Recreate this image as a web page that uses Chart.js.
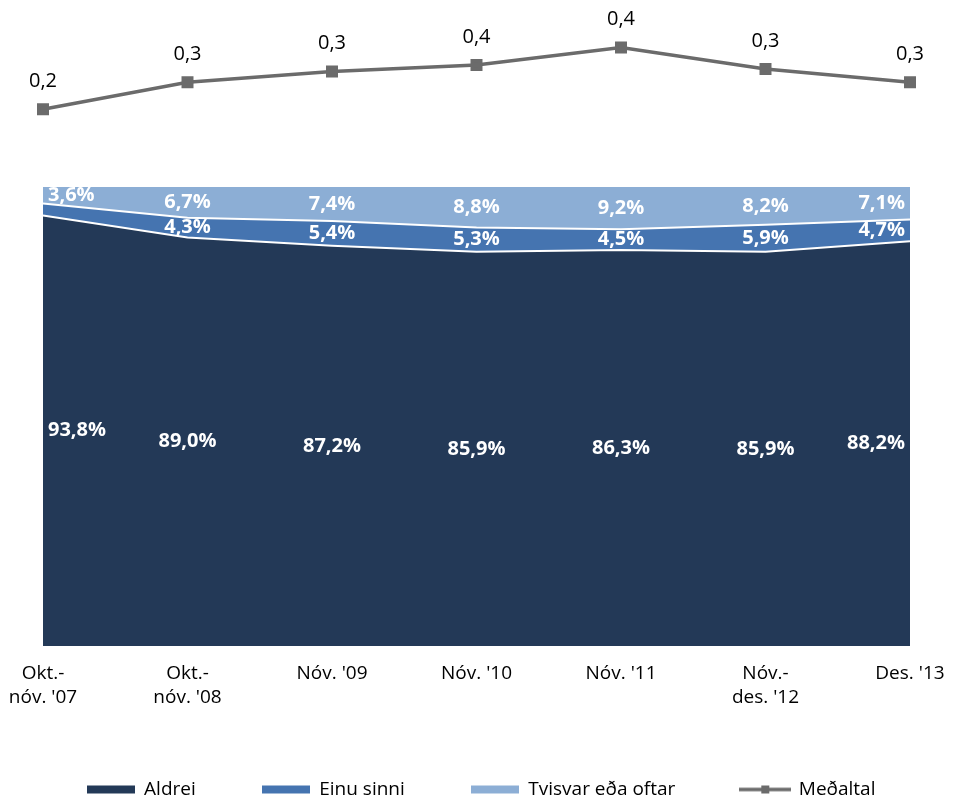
<!DOCTYPE html>
<html>
<head>
<meta charset="utf-8">
<script src="https://cdn.jsdelivr.net/npm/chart.js@4.4.1/dist/chart.umd.min.js"></script>
<style>
  html, body { margin: 0; padding: 0; background: #fff; }
</style>
</head>
<body>
<canvas id="surveyChart" width="962" height="801"></canvas>
<script>
// x categories (survey periods)
const periods = [['Okt.-', "nóv. '07"], ['Okt.-', "nóv. '08"], "Nóv. '09", "Nóv. '10", "Nóv. '11", ['Nóv.-', "des. '12"], "Des. '13"];

// shares, %
const aldrei = [93.8, 89.0, 87.2, 85.9, 86.3, 85.9, 88.2];
const einuSinni = [2.6, 4.3, 5.4, 5.3, 4.5, 5.9, 4.7];
const tvisvar = [3.6, 6.7, 7.4, 8.8, 9.2, 8.2, 7.1];

// average count
const medaltal = [0.19, 0.29, 0.33, 0.355, 0.42, 0.34, 0.29];

const seriesNames = ['Aldrei', 'Einu sinni', 'Tvisvar eða oftar', 'Meðaltal'];
const colors = ['#233957', '#4574b0', '#8caed5', '#6b6b6b'];

Chart.defaults.font.family = "'Open Sans', sans-serif";
Chart.defaults.color = '#000';

const fmt = (v, d) => v.toFixed(d).replace('.', ',');

function legendIcon(color, isLine) {
    const c = document.createElement('canvas');
    c.width = isLine ? 52 : 48;
    c.height = 10;
    const ctx = c.getContext('2d');
    ctx.fillStyle = color;
    if (isLine) {
        ctx.strokeStyle = color;
        ctx.lineWidth = 3.5;
        ctx.beginPath();
        ctx.moveTo(0, 5);
        ctx.lineTo(52, 5);
        ctx.stroke();
        ctx.fillRect(22, 1, 8, 8);
    } else {
        ctx.fillRect(0, 1, 48, 8);
    }
    return c;
}

const valueLabels = {
    id: 'valueLabels',
    afterDatasetsDraw(chart) {
        const {ctx, chartArea} = chart;
        const yScale = chart.scales.y;
        ctx.save();
        ctx.textAlign = 'center';
        ctx.textBaseline = 'middle';
        ctx.font = "bold 20px 'Open Sans'";
        ctx.fillStyle = '#fff';
        [0, 1, 2].forEach(d => {
            const values = chart.data.datasets[d].data;
            chart.getDatasetMeta(d).data.forEach((pt, i) => {
                if (values[i] < 3) return;
                const bottom = d === 0 ? yScale.getPixelForValue(0) : chart.getDatasetMeta(d - 1).data[i].y;
                const text = fmt(values[i], 1) + '%';
                const w = ctx.measureText(text).width;
                const x = Math.min(Math.max(pt.x, chartArea.left + 5 + w / 2), chartArea.right - 5 - w / 2);
                ctx.fillText(text, x, (pt.y + bottom) / 2);
            });
        });

        ctx.font = "20px 'Open Sans'";
        ctx.fillStyle = '#000';
        chart.getDatasetMeta(3).data.forEach((pt, i) => {
            ctx.fillText(fmt(Math.round(medaltal[i] * 10) / 10, 1), pt.x, pt.y - 28);
        });
        ctx.restore();
    }
};

const areaSet = (i, data, fill, border) => ({
    label: seriesNames[i],
    data: data,
    yAxisID: 'y',
    backgroundColor: colors[i],
    borderColor: '#fff',
    borderWidth: border,
    fill: fill,
    pointRadius: 0,
    tension: 0
});

new Chart(document.getElementById('surveyChart'), {
    type: 'line',
    data: {
        labels: periods,
        datasets: [
            areaSet(0, aldrei, 'origin', 2),
            areaSet(1, einuSinni, '-1', 2),
            areaSet(2, tvisvar, '-1', 0),
            {
                label: seriesNames[3],
                data: medaltal,
                yAxisID: 'y2',
                borderColor: colors[3],
                backgroundColor: colors[3],
                borderWidth: 3.5,
                pointStyle: 'rect',
                pointRadius: 6,
                pointHoverRadius: 6,
                fill: false,
                tension: 0
            }
        ]
    },
    options: {
        responsive: false,
        animation: false,
        layout: { padding: { top: 26, left: 0, right: 0, bottom: -8 } },
        plugins: {
            tooltip: { enabled: false },
            legend: {
                position: 'bottom',
                labels: {
                    usePointStyle: true,
                    pointStyleWidth: 48,
                    padding: 66,
                    font: { size: 19 },
                    generateLabels: (chart) => chart.data.datasets.map((ds, i) => ({
                        text: ds.label,
                        pointStyle: legendIcon(colors[i], i === 3),
                        fillStyle: colors[i],
                        strokeStyle: colors[i],
                        lineWidth: 0,
                        hidden: false,
                        datasetIndex: i
                    }))
                }
            }
        },
        scales: {
            x: {
                offset: false,
                grid: { display: false, drawTicks: false },
                border: { display: false },
                ticks: { padding: 16, maxRotation: 0, autoSkip: false, font: { size: 19, lineHeight: 1.25 } },
                afterFit: (scale) => {
                    scale.height = 68;
                    scale.paddingLeft = 43;
                    scale.paddingRight = 52;
                }
            },
            y2: {
                position: 'left',
                stack: 'rows',
                stackWeight: 161,
                weight: 1,
                display: false,
                min: -0.1,
                max: 0.5
            },
            y: {
                position: 'left',
                stack: 'rows',
                stackWeight: 459,
                weight: 0,
                display: false,
                stacked: true,
                min: 0,
                max: 100
            }
        }
    },
    plugins: [valueLabels]
});
</script>
</body>
</html>
